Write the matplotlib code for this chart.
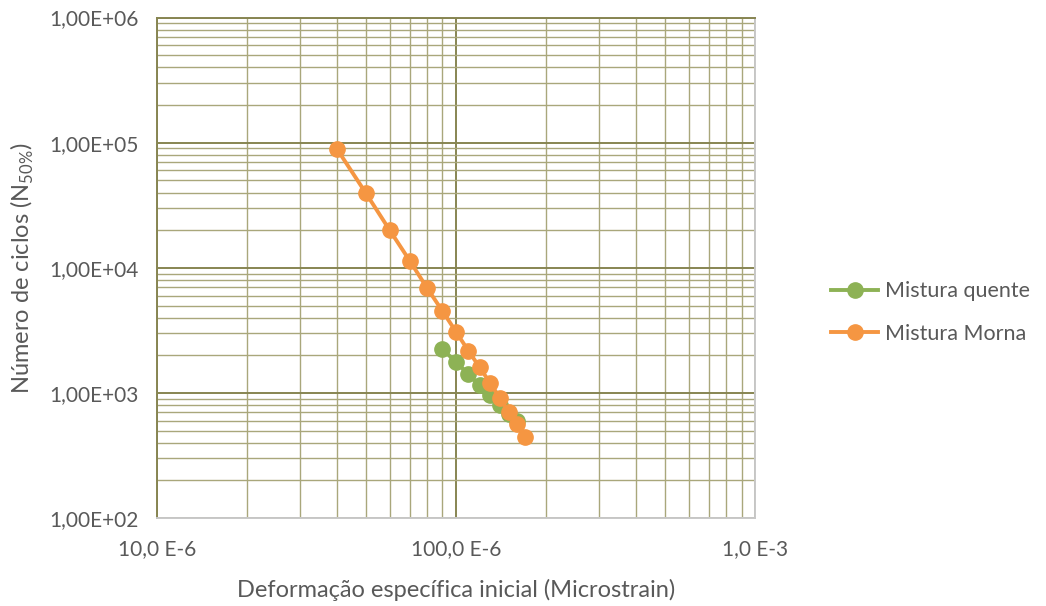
import matplotlib
matplotlib.use("Agg")
import matplotlib.pyplot as plt
from matplotlib.ticker import FixedLocator, FixedFormatter, LogLocator, NullFormatter

plt.rcParams['font.family'] = ['Lato', 'DejaVu Sans']
plt.rcParams['mathtext.fontset'] = 'custom'
plt.rcParams['mathtext.rm'] = 'Lato'

# data (strain in m/m, cycles)
quente_strain = [90e-6, 100e-6, 110e-6, 120e-6, 130e-6, 140e-6, 150e-6, 160e-6]
quente_ciclos = [2240, 1770, 1410, 1150, 960, 800, 685, 600]

morna_strain = [40e-6, 50e-6, 60e-6, 70e-6, 80e-6, 90e-6, 100e-6, 110e-6,
                120e-6, 130e-6, 140e-6, 150e-6, 160e-6, 170e-6]
morna_ciclos = [89000, 39400, 20000, 11400, 6900, 4530, 3080, 2170,
                1600, 1200, 912, 705, 562, 445]

x_ticks = [1e-5, 1e-4, 1e-3]
x_labels = ['10,0 E-6', '100,0 E-6', '1,0 E-3']
y_ticks = [1e2, 1e3, 1e4, 1e5, 1e6]
y_labels = ['1,00E+02', '1,00E+03', '1,00E+04', '1,00E+05', '1,00E+06']

txt = '#595959'
grid_major = '#878552'
grid_minor = '#a9a77b'

fig = plt.figure(figsize=(10.46, 6.06), dpi=100)
ax = fig.add_axes([0.150, 0.145, 0.572, 0.826])

ax.set_xscale('log')
ax.set_yscale('log')
ax.set_xlim(1e-5, 1e-3)
ax.set_ylim(1e2, 1e6)

ax.xaxis.set_major_locator(FixedLocator(x_ticks))
ax.xaxis.set_major_formatter(FixedFormatter(x_labels))
ax.yaxis.set_major_locator(FixedLocator(y_ticks))
ax.yaxis.set_major_formatter(FixedFormatter(y_labels))
ax.xaxis.set_minor_locator(LogLocator(base=10, subs=range(2, 10)))
ax.yaxis.set_minor_locator(LogLocator(base=10, subs=range(2, 10)))
ax.xaxis.set_minor_formatter(NullFormatter())
ax.yaxis.set_minor_formatter(NullFormatter())

ax.grid(which='major', color=grid_major, linewidth=1.4)
ax.grid(which='minor', color=grid_minor, linewidth=1.0)
ax.set_axisbelow(True)
ax.tick_params(which='both', length=0, labelsize=15, colors=txt)
ax.tick_params(axis='y', pad=13)
ax.tick_params(axis='x', pad=15)

ax.spines['left'].set_color(grid_major)
ax.spines['top'].set_color(grid_major)
ax.spines['bottom'].set_color('#c8c8c8')
ax.spines['right'].set_color('#c8c8c8')
for s in ax.spines.values():
    s.set_linewidth(1.4)

ax.plot(quente_strain, quente_ciclos, color='#8db255', marker='o', markersize=11,
        linewidth=2.8, label='Mistura quente', zorder=3)
ax.plot(morna_strain, morna_ciclos, color='#f59642', marker='o', markersize=11,
        linewidth=2.8, label='Mistura Morna', zorder=4)

ax.set_xlabel('Deformação específica inicial (Microstrain)', fontsize=17, color=txt, labelpad=14)
ax.set_ylabel(r'Número de ciclos (N$_{\mathrm{50\%}}$)', fontsize=17, color=txt, labelpad=10)

fig.legend(loc='center left', bbox_to_anchor=(0.776, 0.484), frameon=False,
           fontsize=15.5, labelcolor=txt, handlelength=2.2, handletextpad=0.3,
           labelspacing=1.05)

fig.savefig('out.png', dpi=100)
